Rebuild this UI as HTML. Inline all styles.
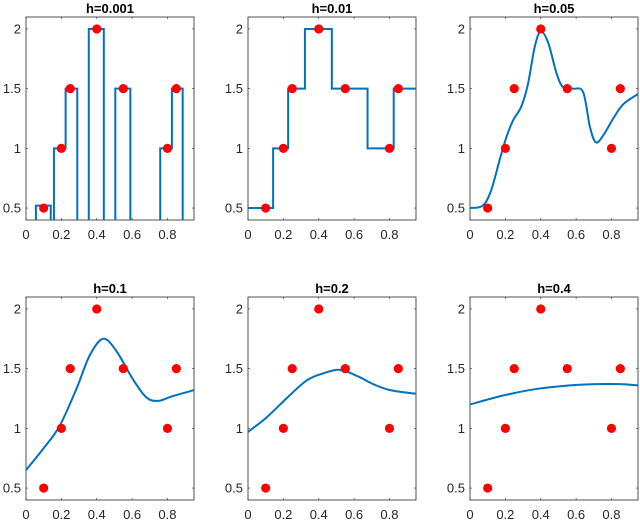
<!DOCTYPE html>
<html><head><meta charset="utf-8"><style>
body{margin:0;background:#fff;}
svg{display:block;font-family:"Liberation Sans",Arial,sans-serif;}
</style></head><body>
<svg id="fig" width="640" height="521" viewBox="0 0 640 521"></svg>
<script>
// data points
const ptX = [0.1, 0.2, 0.25, 0.4, 0.55, 0.8, 0.85];
const ptY = [0.5, 1, 1.5, 2, 1.5, 1, 1.5];
const titles = ["h=0.001","h=0.01","h=0.05","h=0.1","h=0.2","h=0.4"];
const xTicks = [0, 0.2, 0.4, 0.6, 0.8];
const xTickLabels = ["0","0.2","0.4","0.6","0.8"];
const yTicks = [0.5, 1, 1.5, 2];
const yTickLabels = ["0.5","1","1.5","2"];
// h=0.001 segments: [x0, x1, level]
const segStart = [0.056, 0.158, 0.224, 0.355, 0.505, 0.759, 0.825];
const segEnd   = [0.14, 0.224, 0.29, 0.44, 0.59, 0.825, 0.886];
const segLevel = [0.52, 1, 1.5, 2, 1.5, 1, 1.5];
// h=0.01 step function
const stepX = [0, 0.142, 0.227, 0.322, 0.474, 0.676, 0.824, 0.95];
const stepY = [0.5, 1, 1.5, 2, 1.5, 1, 1.5];
// smooth curves
const c05X = [0,0.072,0.12,0.167,0.205,0.242,0.29,0.328,0.366,0.4,0.443,0.489,0.527,0.583,0.64,0.678,0.712,0.754,0.81,0.867,0.956];
const c05Y = [0.5,0.52,0.65,0.9,1.09,1.23,1.35,1.54,1.85,1.98,1.88,1.63,1.51,1.5,1.47,1.18,1.05,1.11,1.25,1.37,1.46];
const c1X = [0,0.098,0.19,0.285,0.36,0.436,0.51,0.605,0.68,0.746,0.83,0.95];
const c1Y = [0.65,0.83,1.02,1.33,1.61,1.75,1.65,1.41,1.26,1.23,1.27,1.32];
const c2X = [0,0.104,0.217,0.331,0.425,0.52,0.615,0.709,0.804,0.95];
const c2Y = [0.97,1.09,1.25,1.40,1.46,1.49,1.44,1.37,1.32,1.29];
const c4X = [0,0.188,0.377,0.565,0.716,0.847,0.953];
const c4Y = [1.2,1.275,1.33,1.36,1.37,1.37,1.36];

const NS="http://www.w3.org/2000/svg";
const svg=document.getElementById('fig');
const XMIN=0,XMAX=0.95,YMIN=0.4,YMAX=2.1,W=168,H=203;
const lefts=[26,248,470], tops=[17,297];
function mk(tag,attrs,parent){const e=document.createElementNS(NS,tag);for(const k in attrs)e.setAttribute(k,attrs[k]);(parent||svg).appendChild(e);return e;}

function smoothPath(xs,ys,sx,sy){
  const P=xs.map((x,i)=>[sx(x),sy(ys[i])]);
  let d=`M${P[0][0]},${P[0][1]}`;
  for(let i=0;i<P.length-1;i++){
    const p0=P[i-1]||P[i],p1=P[i],p2=P[i+1],p3=P[i+2]||P[i+1];
    const c1=[p1[0]+(p2[0]-p0[0])/6,p1[1]+(p2[1]-p0[1])/6];
    const c2=[p2[0]-(p3[0]-p1[0])/6,p2[1]-(p3[1]-p1[1])/6];
    d+=` C${c1[0]},${c1[1]} ${c2[0]},${c2[1]} ${p2[0]},${p2[1]}`;
  }
  return d;
}

for(let k=0;k<6;k++){
  const L=lefts[k%3],T=tops[Math.floor(k/3)];
  const sx=v=>L+(v-XMIN)/(XMAX-XMIN)*W;
  const sy=v=>T+(YMAX-v)/(YMAX-YMIN)*H;
  const g=mk('g',{});
  
  
  const cp=mk('clipPath',{id:'cp'+k},g);
  mk('rect',{x:L,y:T,width:W,height:H},cp);
  const t=mk('text',{x:L+W/2,y:T-4,'text-anchor':'middle','font-size':'13','font-weight':'bold',fill:'#000'},g);
  t.textContent=titles[k];
  
  
  xTicks.forEach((v,i)=>{
    const x=sx(v);
    mk('line',{x1:x,x2:x,y1:T+H,y2:T+H-2,stroke:'#262626','stroke-width':0.6},g);
    mk('line',{x1:x,x2:x,y1:T,y2:T+2,stroke:'#262626','stroke-width':0.6},g);
    const tl=mk('text',{x:x,y:T+H+19,'text-anchor':'middle','font-size':'13',fill:'#262626'},g);
    tl.textContent=xTickLabels[i];
    
    
  });
  yTicks.forEach((v,i)=>{
    const y=sy(v);
    mk('line',{x1:L,x2:L+2,y1:y,y2:y,stroke:'#262626','stroke-width':0.6},g);
    mk('line',{x1:L+W,x2:L+W-2,y1:y,y2:y,stroke:'#262626','stroke-width':0.6},g);
    const tl=mk('text',{x:L-5,y:y+4.5,'text-anchor':'end','font-size':'13',fill:'#262626'},g);
    tl.textContent=yTickLabels[i];
    
    
  });
  const bx=mk('rect',{x:L,y:T,width:W,height:H,fill:'none',stroke:'#262626','stroke-width':0.8},g);
  
  
  let d='';
  if(k===0){
    const bottom=T+H+5;
    for(let i=0;i<segStart.length;i++){
      const contiguous=i>0&&Math.abs(segStart[i]-segEnd[i-1])<1e-6;
      if(contiguous) d+=` L${sx(segStart[i])},${sy(segLevel[i])}`;
      else d+=` M${sx(segStart[i])},${bottom} L${sx(segStart[i])},${sy(segLevel[i])}`;
      d+=` L${sx(segEnd[i])},${sy(segLevel[i])}`;
      const nextCont=i<segStart.length-1&&Math.abs(segStart[i+1]-segEnd[i])<1e-6;
      if(!nextCont) d+=` L${sx(segEnd[i])},${bottom}`;
    }
  } else if(k===1){
    d=`M${sx(stepX[0])},${sy(stepY[0])}`;
    for(let i=0;i<stepY.length;i++){
      d+=` L${sx(stepX[i+1])},${sy(stepY[i])}`;
      if(i<stepY.length-1) d+=` L${sx(stepX[i+1])},${sy(stepY[i+1])}`;
    }
  } else {
    const cx=[null,null,c05X,c1X,c2X,c4X][k], cy=[null,null,c05Y,c1Y,c2Y,c4Y][k];
    d=smoothPath(cx,cy,sx,sy);
  }
  const p=mk('path',{d:d,fill:'none',stroke:'#0072BD','stroke-width':2,'clip-path':`url(#cp${k})`},g);
  
  
  ptX.forEach((v,i)=>{
    const c=mk('circle',{cx:sx(v),cy:sy(ptY[i]),r:4.6,fill:'#ff0000'},g);
    
    
  });
}
</script>
</body></html>
